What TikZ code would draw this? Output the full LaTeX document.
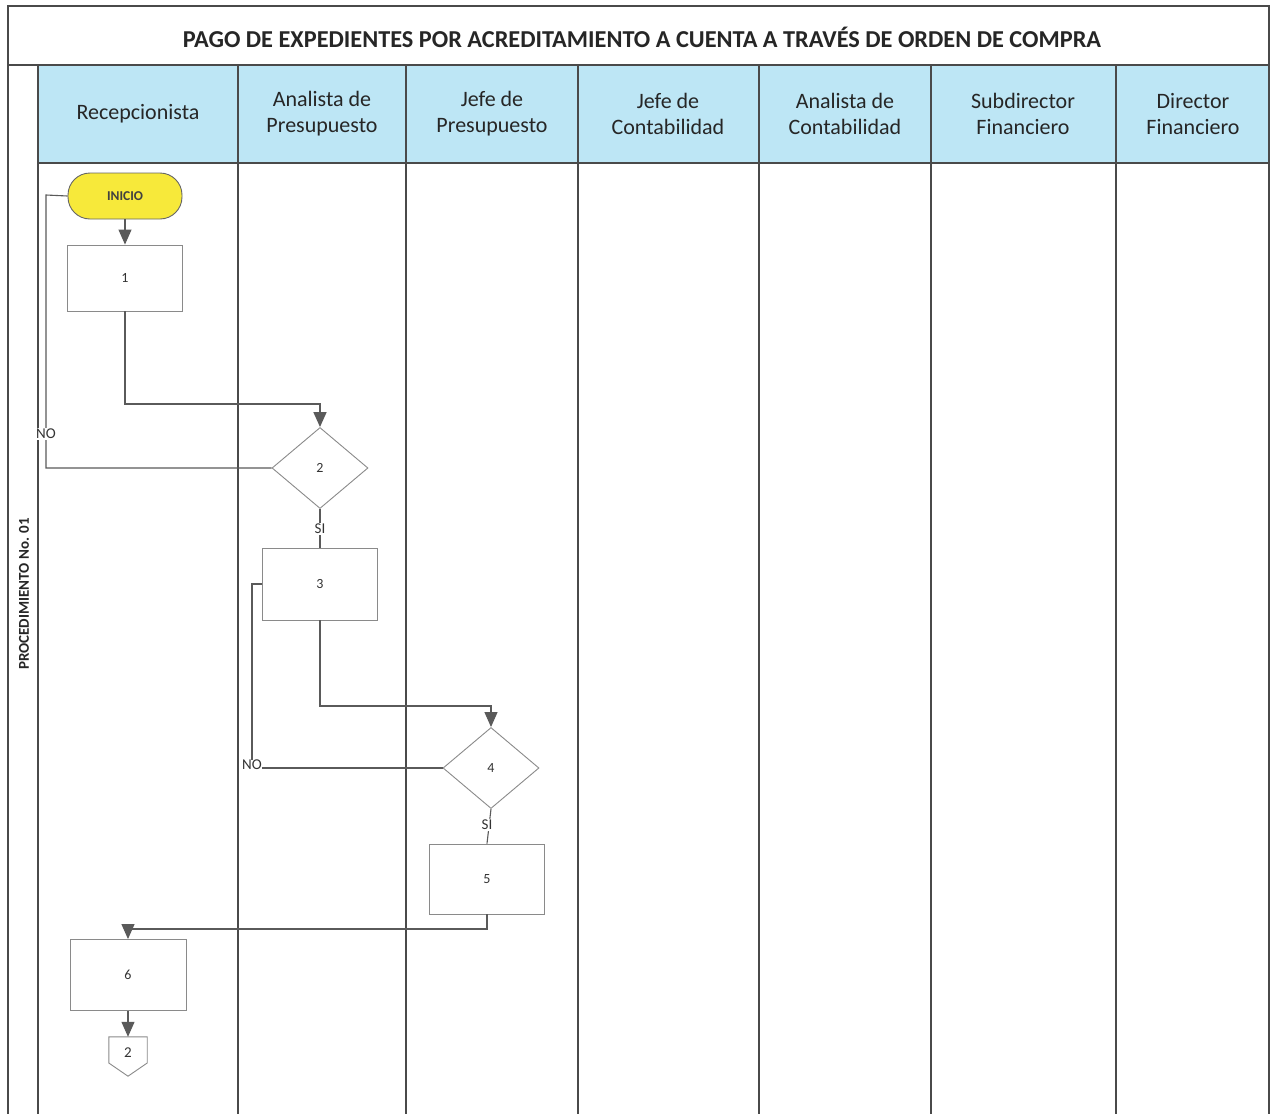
\documentclass[tikz,border=0pt]{standalone}
\usepackage{fontspec}
\setmainfont{Carlito}
\setsansfont{Carlito}
\usetikzlibrary{arrows.meta,shapes.geometric,positioning}
\definecolor{grid}{HTML}{4A4A4A}
\definecolor{conn}{HTML}{5A5A5A}
\definecolor{headblue}{HTML}{BDE6F5}
\definecolor{inicioyel}{HTML}{F7E93A}
\definecolor{boxline}{HTML}{8A8A8A}
\tikzset{
  gridline/.style={draw=grid, line width=1.4pt},
  conline/.style={draw=conn, line width=1.1pt},
  arr/.style={conline, -{Triangle[width=13pt,length=15pt]}},
  procbox/.style={draw=boxline, line width=0.9pt, fill=white, minimum width=115pt, minimum height=70pt, inner sep=0pt, font=\fontsize{14}{16}\selectfont, text=black!80},
  decbox/.style={draw=boxline, line width=0.9pt, fill=white, diamond, aspect=1.2, minimum width=96pt, minimum height=81pt, inner sep=0pt, font=\fontsize{14}{16}\selectfont, text=black!80},
  headtxt/.style={align=center, font=\fontsize{22}{26}\selectfont, text=black!85},
  lbl/.style={fill=white, inner sep=1pt, font=\fontsize{15}{17}\selectfont, text=black!80},
}
\begin{document}
\begin{tikzpicture}[x=1pt,y=-1pt]
\useasboundingbox (0,0) rectangle (1270,1114);
\fill[white] (0,0) rectangle (1270,1114);
% header band
\fill[headblue] (38,65) rectangle (1269,163);
% frame
\draw[gridline] (8,1114) -- (8,6) -- (1269,6) -- (1269,1114);
\draw[gridline] (8,65) -- (1269,65);
\draw[gridline] (38,163) -- (1269,163);
\foreach \x in {38,238,406,578,759,931,1116} \draw[gridline] (\x,65) -- (\x,1114);
% title
\node[font=\fontsize{24.3}{28}\selectfont\bfseries, text=black!85] (title) at (642,37) {PAGO DE EXPEDIENTES POR ACREDITAMIENTO A CUENTA A TRAVÉS DE ORDEN DE COMPRA};
% headers
\node[headtxt] (h1) at (138,114) {Recepcionista};
\node[headtxt] (h2) at (322,114) {Analista de\\Presupuesto};
\node[headtxt] (h3) at (492,114) {Jefe de\\Presupuesto};
\node[headtxt] (h4) at (668,114) {Jefe de\\Contabilidad};
\node[headtxt] (h5) at (845,114) {Analista de\\Contabilidad};
\node[headtxt] (h6) at (1023,114) {Subdirector\\Financiero};
\node[headtxt] (h7) at (1193,114) {Director\\Financiero};
% side label
\node[rotate=90, font=\fontsize{15}{17}\selectfont\bfseries, text=black!85] (side) at (24,594) {PROCEDIMIENTO No. 01};
% nodes
\node[draw=black!60, line width=0.9pt, fill=inicioyel, rounded corners=22pt, minimum width=114pt, minimum height=46pt, inner sep=0pt, font=\fontsize{13.5}{15}\selectfont\bfseries, text=black!75] (inicio) at (125,196) {INICIO};
\node[procbox, minimum height=66pt] (b1) at (125,278) {1};
\node[decbox] (d2) at (320,468) {2};
\node[procbox, minimum height=72pt] (b3) at (320,584) {3};
\node[decbox] (d4) at (491,768) {4};
\node[procbox] (b5) at (487,879) {5};
\node[procbox, minimum width=116pt, minimum height=71pt] (b6) at (128,975) {6};
\node[minimum width=38pt, minimum height=39pt, inner sep=0pt] (c2) at (128,1056.5) {};
\draw[draw=boxline, line width=0.9pt, fill=white] (c2.north west) -- (c2.north east) -- ([yshift=-6.5pt]c2.east) -- (c2.south) -- ([yshift=-6.5pt]c2.west) -- cycle;
\node[font=\fontsize{15}{17}\selectfont, text=black!80] at ([yshift=4pt]c2.center) {2};
% connectors
\draw[arr] (inicio.south) -- (b1.north);
\draw[arr, line width=1.6pt] (b1.south) |- (320,404) -- (d2.north);
\coordinate (no1) at (46,195);
\draw[conline] (d2.west) -| (no1) -- (inicio.west);
\node[lbl] (nolbl1) at (46,434) {NO};
\draw[conline] (d2.south) -- (b3.north);
\node[lbl] (si1) at (320,529) {SI};
\draw[arr] (b3.south) |- (491,706) -- (d4.north);
\coordinate (no2) at (252,768);
\draw[conline] (d4.west) -- (no2) |- (b3.west);
\node[lbl, inner sep=0.5pt] (nolbl2) at (252,765) {NO};
\draw[conline] (d4.south) -- (b5.north);
\node[lbl] (si2) at (487,825) {SI};
\draw[arr] (b5.south) |- (128,929) -- (b6.north);
\draw[arr] (b6.south) -- (c2.north);
\end{tikzpicture}
\end{document}
